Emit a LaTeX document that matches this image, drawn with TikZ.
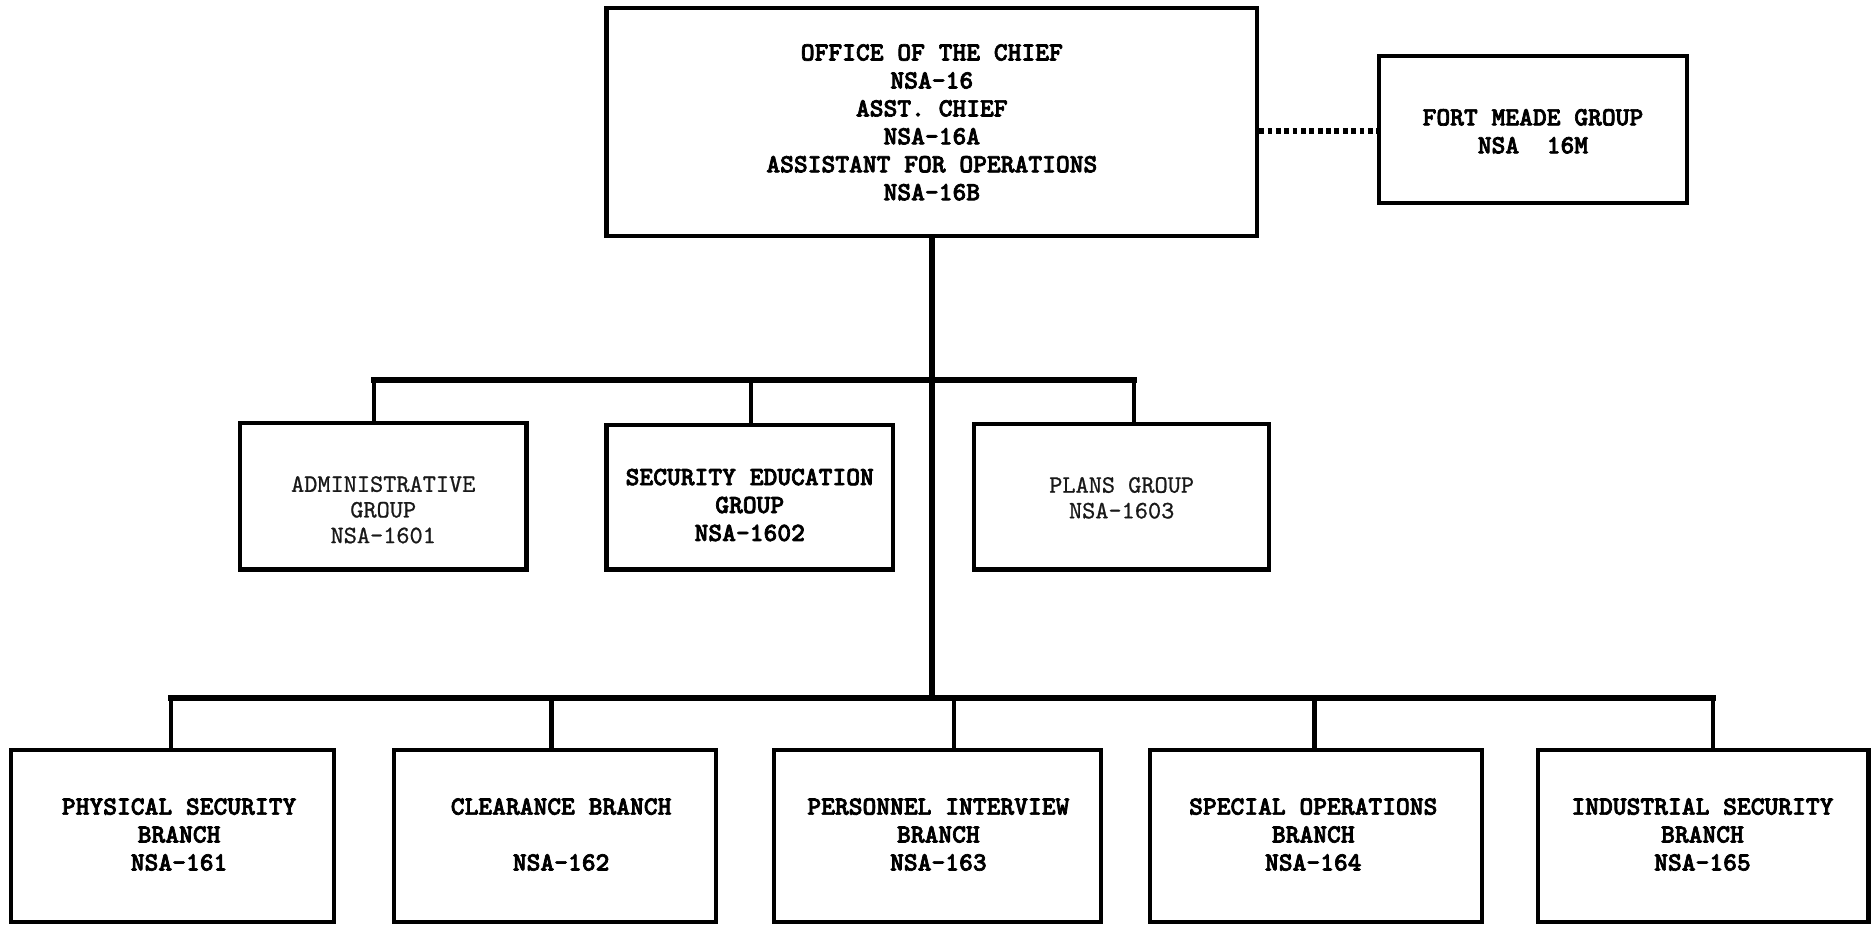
\documentclass[tikz,border=0pt]{standalone}
\usepackage{fontspec}
\newfontfamily\twb[Extension=.otf, FakeBold=2.6]{lmmonolt10-bold}
\newfontfamily\twl[Extension=.otf, FakeBold=0.8]{lmmono10-regular}
\begin{document}
\begin{tikzpicture}[x=1pt,y=-1pt,
  box/.style={draw=black, line width=3.5pt, inner sep=0pt, fill=white},
  lbl/.style={align=center, inner sep=0pt, font=\twb\fontsize{22}{23.4}\selectfont, text=black},
  lbllight/.style={align=center, inner sep=0pt, font=\twl\fontsize{21}{21.5}\selectfont, text=black!90},
  conn/.style={line width=3.5pt, draw=black},
  trunk/.style={line width=5pt, draw=black},
  dotline/.style={line width=5pt, draw=black, dash pattern=on 4pt off 3pt}]
\useasboundingbox (0,0) rectangle (1568,776);
% boxes
\node[box, minimum width=545pt, minimum height=191pt] (chief) at (780.5,102.5) {};
\node[box, minimum width=258pt, minimum height=123pt] (fm) at (1284,108.5) {};
\node[box, minimum width=240pt, minimum height=123pt] (admin) at (321,415.5) {};
\node[box, minimum width=240pt, minimum height=121pt] (seced) at (628,416.5) {};
\node[box, minimum width=247pt, minimum height=122pt] (plans) at (939.5,416) {};
\node[box, minimum width=271pt, minimum height=144pt] (phys) at (144.5,700) {};
\node[box, minimum width=270pt, minimum height=144pt] (clear) at (465,700) {};
\node[box, minimum width=274pt, minimum height=144pt] (pers) at (785,700) {};
\node[box, minimum width=278pt, minimum height=144pt] (spec) at (1102,700) {};
\node[box, minimum width=277pt, minimum height=144pt] (ind) at (1426.5,700) {};
% texts
\node[lbl] (tchief) at (780.5,102.5) {OFFICE OF THE CHIEF\\NSA-16\\ASST. CHIEF\\NSA-16A\\ASSISTANT FOR OPERATIONS\\NSA-16B};
\node[lbl] (tfm) at (1284,110) {FORT MEADE GROUP\\NSA\ \ 16M};
\node[lbllight] (tadmin) at (321,427) {ADMINISTRATIVE\\GROUP\\NSA-1601};
\node[lbl] (tseced) at (628,423) {SECURITY EDUCATION\\GROUP\\NSA-1602};
\node[lbllight] (tplans) at (939.5,417) {PLANS GROUP\\NSA-1603};
\node[lbl] (tphys) at (150,699) {PHYSICAL SECURITY\\BRANCH\\NSA-161};
\node[lbl] (tclear) at (470,699) {CLEARANCE BRANCH\\\mbox{}\\NSA-162};
\node[lbl] (tpers) at (786,699) {PERSONNEL INTERVIEW\\BRANCH\\NSA-163};
\node[lbl] (tspec) at (1100,699) {SPECIAL OPERATIONS\\BRANCH\\NSA-164};
\node[lbl] (tind) at (1426,699) {INDUSTRIAL SECURITY\\BRANCH\\NSA-165};
% bus coordinates
\coordinate (trunktop) at (781,0);
\coordinate (midbus) at (781,318);
\coordinate (botbus) at (781,585);
\coordinate (m1) at (313,318);
\coordinate (m2) at (629,318);
\coordinate (m3) at (950,318);
\coordinate (b1) at (143,585);
\coordinate (b2) at (462,585);
\coordinate (b3) at (799,585);
\coordinate (b4) at (1101,585);
\coordinate (b5) at (1435,585);
% connectors
\draw[trunk] (trunktop |- chief.south) -- (botbus);
\draw[dotline] (chief.east |- 0,110) -- (fm.west |- 0,110);
\draw[trunk, line cap=rect] (m1) -- (m3);
\draw[trunk, line cap=rect] (b1) -- (b5);
\draw[conn] (m1) -- (m1 |- admin.north);
\draw[conn] (m2) -- (m2 |- seced.north);
\draw[conn] (m3) -- (m3 |- plans.north);
\draw[conn] (b1) -- (b1 |- phys.north);
\draw[conn] (b2) -- (b2 |- clear.north);
\draw[conn] (b3) -- (b3 |- pers.north);
\draw[conn] (b4) -- (b4 |- spec.north);
\draw[conn] (b5) -- (b5 |- ind.north);
\end{tikzpicture}
\end{document}
